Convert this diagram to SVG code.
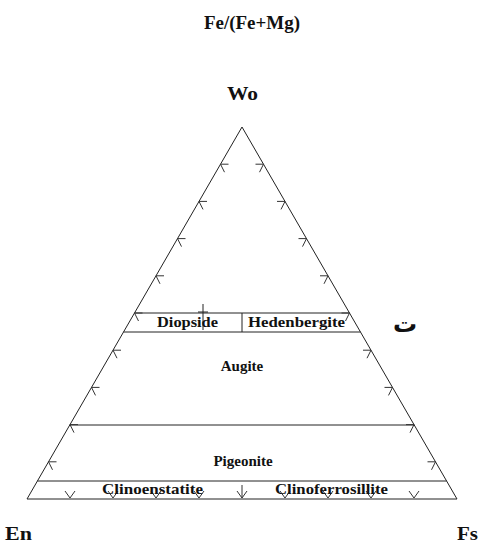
<svg xmlns="http://www.w3.org/2000/svg" width="487" height="548" viewBox="0 0 487 548">
<defs>
<style>
.t{font-family:"Liberation Serif","Times New Roman",serif;font-weight:bold;fill:#111}
.ln{stroke:#222;stroke-width:1;fill:none}
.tk{stroke:#333;stroke-width:1;fill:none}
</style>
<path id="tl" d="M8,0 L0,0 L4,8" class="tk"/>
<path id="tr" d="M-8,0 L0,0 L-4,8" class="tk"/>
<path id="tb" d="M-5,-7 L0,0 L5,-7" class="tk"/>
</defs>
<rect width="487" height="548" fill="#fff"/>
<g id="title"><text class="t" x="204" y="29" font-size="18" textLength="96" lengthAdjust="spacingAndGlyphs">Fe/(Fe+Mg)</text></g>
<g id="wo"><text class="t" x="227" y="100" font-size="19" textLength="31" lengthAdjust="spacingAndGlyphs">Wo</text></g>
<g id="en"><text class="t" x="5" y="540" font-size="19" textLength="27" lengthAdjust="spacingAndGlyphs">En</text></g>
<g id="fs"><text class="t" x="457" y="540" font-size="19" textLength="21" lengthAdjust="spacingAndGlyphs">Fs</text></g>
<g id="teh"><text x="405" y="332" font-size="24" font-weight="bold" font-family="'DejaVu Sans',sans-serif" text-anchor="middle" fill="#111">ت</text></g>
<g id="connectors">
<polygon class="ln" points="242,127 27,499 457,499"/>
<line class="ln" x1="134.5" y1="313" x2="349.5" y2="313"/>
<line class="ln" x1="123.5" y1="332" x2="360.5" y2="332" stroke="#555"/>
<line class="ln" x1="242" y1="313" x2="242" y2="332"/>
<line class="ln" x1="69.8" y1="425" x2="414.2" y2="425" stroke="#444"/>
<line class="ln" x1="37.4" y1="481" x2="446.6" y2="481"/>
<line class="tk" x1="242" y1="485" x2="242" y2="498"/>
<line class="ln" x1="203" y1="304" x2="203" y2="330" stroke-width="1.6"/>
<line class="ln" x1="198" y1="312" x2="208" y2="312" stroke-width="1.6"/>
</g>
<g id="ticks">
<use href="#tl" x="220.5" y="164.2"/><use href="#tl" x="199" y="201.4"/><use href="#tl" x="177.5" y="238.6"/>
<use href="#tl" x="156" y="275.8"/><use href="#tl" x="134.5" y="313"/><use href="#tl" x="113" y="350.2"/>
<use href="#tl" x="91.5" y="387.4"/><use href="#tl" x="70" y="424.6"/><use href="#tl" x="48.5" y="461.8"/>
<use href="#tr" x="263.5" y="164.2"/><use href="#tr" x="285" y="201.4"/><use href="#tr" x="306.5" y="238.6"/>
<use href="#tr" x="328" y="275.8"/><use href="#tr" x="349.5" y="313"/><use href="#tr" x="371" y="350.2"/>
<use href="#tr" x="392.5" y="387.4"/><use href="#tr" x="414" y="424.6"/><use href="#tr" x="435.5" y="461.8"/>
<use href="#tb" x="70" y="498"/><use href="#tb" x="113" y="498"/><use href="#tb" x="156" y="498"/>
<use href="#tb" x="199" y="498"/><use href="#tb" x="242" y="498"/><use href="#tb" x="285" y="498"/>
<use href="#tb" x="328" y="498"/><use href="#tb" x="371" y="498"/><use href="#tb" x="414" y="498"/>
</g>
<g id="diopside"><text class="t" x="157" y="327" font-size="15" textLength="61" lengthAdjust="spacingAndGlyphs">Diopside</text></g>
<g id="hedenbergite"><text class="t" x="248" y="327" font-size="15" textLength="97" lengthAdjust="spacingAndGlyphs">Hedenbergite</text></g>
<g id="augite"><text class="t" x="242" y="371" font-size="15" text-anchor="middle">Augite</text></g>
<g id="pigeonite"><text class="t" x="243" y="466" font-size="15" text-anchor="middle">Pigeonite</text></g>
<g id="clinoenstatite"><text class="t" x="102" y="494" font-size="15" textLength="101" lengthAdjust="spacingAndGlyphs">Clinoenstatite</text></g>
<g id="clinoferrosillite"><text class="t" x="275" y="494" font-size="15" textLength="113" lengthAdjust="spacingAndGlyphs">Clinoferrosillite</text></g>
</svg>
